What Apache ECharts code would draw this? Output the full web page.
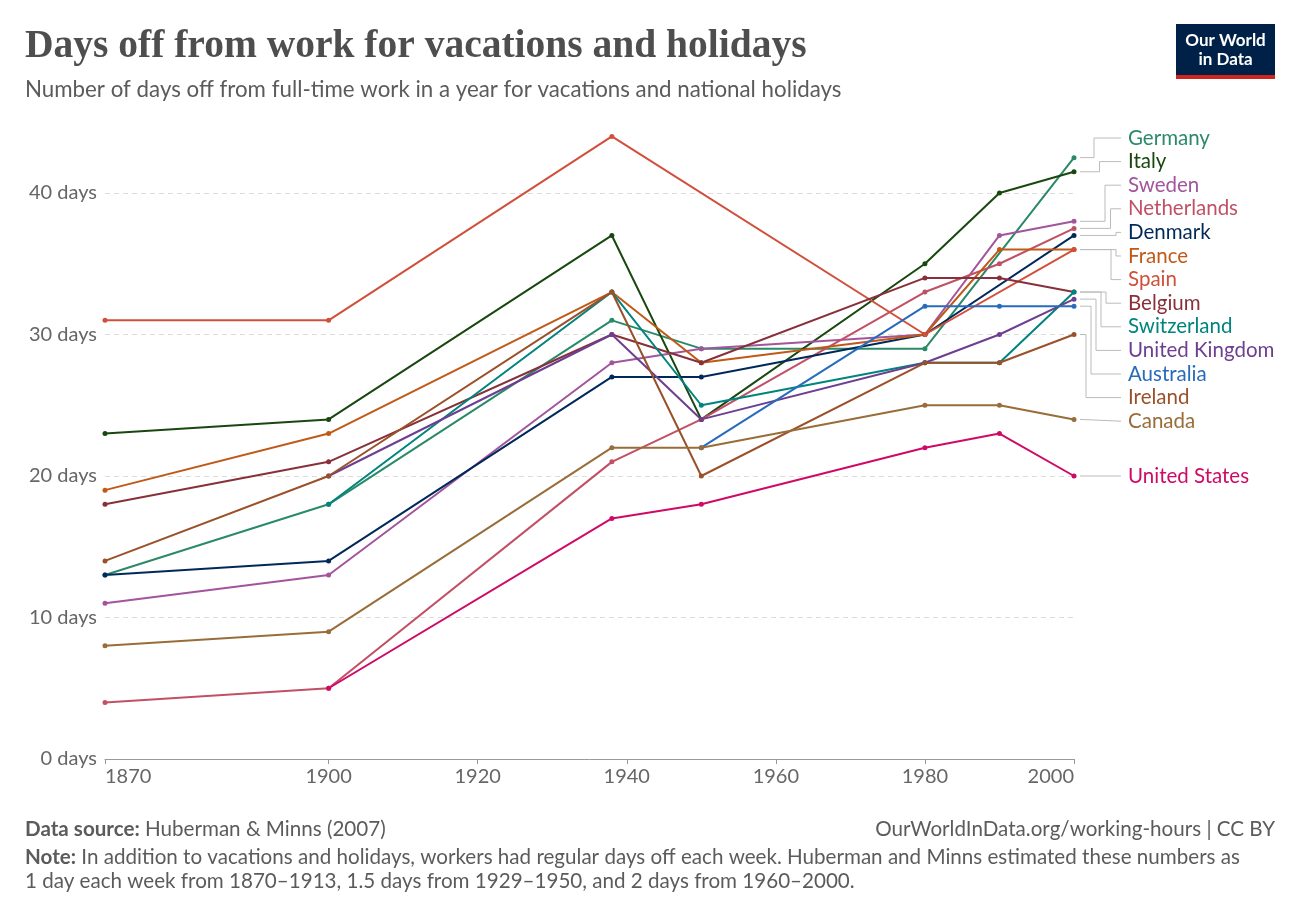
<!DOCTYPE html>
<html>
<head>
<meta charset="utf-8">
<script src="https://cdn.jsdelivr.net/npm/echarts@6/dist/echarts.min.js"></script>
<style>
  html, body { margin: 0; padding: 0; background: #fff; }
  #main { width: 1300px; height: 917px; }
</style>
</head>
<body>
<div id="main"></div>
<script>
// years with observations
var years = [1870, 1900, 1938, 1950, 1980, 1990, 2000];
var xTicks = [1870, 1900, 1920, 1940, 1960, 1980, 2000];

// days off per year, null = no data
var germany     = [13, 18, 31, 29, 29, null, 42.5];
var italy       = [23, 24, 37, 24, 35, 40, 41.5];
var sweden      = [11, 13, 28, 29, 30, 37, 38];
var netherlands = [4, 5, 21, 24, 33, 35, 37.5];
var denmark     = [13, 14, 27, 27, 30, null, 37];
var france      = [19, 23, 33, 28, 30, 36, 36];
var spain       = [31, 31, 44, null, 30, null, 36];
var belgium     = [18, 21, 30, 28, 34, 34, 33];
var switzerland = [null, 18, 33, 25, 28, 28, 33];
var uk          = [null, 20, 30, 24, 28, 30, 32.5];
var australia   = [null, null, null, 22, 32, 32, 32];
var ireland     = [14, 20, 33, 20, 28, 28, 30];
var canada      = [8, 9, 22, 22, 25, 25, 24];
var us          = [null, 5, 17, 18, 22, 23, 20];

var countries = [
  {name: 'Germany', values: germany, color: '#2a8a68'},
  {name: 'Italy', values: italy, color: '#18470f'},
  {name: 'Sweden', values: sweden, color: '#a2559c'},
  {name: 'Netherlands', values: netherlands, color: '#c15065'},
  {name: 'Denmark', values: denmark, color: '#00295b'},
  {name: 'France', values: france, color: '#c05917'},
  {name: 'Spain', values: spain, color: '#d0503b'},
  {name: 'Belgium', values: belgium, color: '#883039'},
  {name: 'Switzerland', values: switzerland, color: '#00847e'},
  {name: 'United Kingdom', values: uk, color: '#6d3e91'},
  {name: 'Australia', values: australia, color: '#286bbb'},
  {name: 'Ireland', values: ireland, color: '#9a5129'},
  {name: 'Canada', values: canada, color: '#996d39'},
  {name: 'United States', values: us, color: '#cf0a66'}
];

var FONT = 'Lato, "Noto Sans", sans-serif';

function pairs(vals) {
  return years.map(function (y, i) { return [y, vals[i]]; })
    .filter(function (d) { return d[1] != null; });
}

var myChart = echarts.init(document.getElementById('main'));

myChart.setOption({
  animation: false,
  backgroundColor: '#fff',
  grid: {left: 105, right: 226, top: 193, bottom: 158, containLabel: false},
  xAxis: {
    type: 'value',
    min: 1870,
    max: 2000,
    axisLine: {lineStyle: {color: '#999', width: 1}},
    axisTick: {show: true, customValues: xTicks, length: 5, lineStyle: {color: '#999'}},
    axisLabel: {
      customValues: xTicks,
      formatter: function (v) { return String(v); },
      color: '#666',
      fontSize: 20,
      fontFamily: FONT,
      margin: 8,
      alignMinLabel: 'left',
      alignMaxLabel: 'right'
    },
    splitLine: {show: false}
  },
  yAxis: {
    type: 'value',
    min: 0,
    max: 40,
    interval: 10,
    axisLine: {show: false},
    axisTick: {show: false},
    axisLabel: {formatter: '{value} days', color: '#666', fontSize: 20, fontFamily: FONT, margin: 8},
    splitLine: {lineStyle: {color: '#dcdcdc', type: [5, 4]}}
  },
  series: countries.map(function (c) {
    return {
      name: c.name,
      type: 'line',
      data: pairs(c.values),
      clip: false,
      symbol: 'circle',
      symbolSize: 5,
      lineStyle: {color: c.color, width: 2},
      itemStyle: {color: c.color},
      emphasis: {disabled: true}
    };
  })
});

// ---- end labels with connector lines ----
var labelX = 1128, gap = 23.6, minY = 138;
var items = countries.map(function (c) {
  var d = pairs(c.values);
  var last = d[d.length - 1];
  var p = myChart.convertToPixel({gridIndex: 0}, last);
  return {name: c.name, color: c.color, px: p[0], py: p[1]};
});
items.sort(function (a, b) { return a.py - b.py; });

var clusters = [];
items.forEach(function (it) {
  var c = {items: [it], sum: it.py};
  clusters.push(c);
  while (true) {
    var n = c.items.length;
    c.top = Math.max(minY, c.sum / n - (n - 1) * gap / 2);
    var prev = clusters[clusters.length - 2];
    if (prev && prev.top + prev.items.length * gap > c.top) {
      prev.items = prev.items.concat(c.items);
      prev.sum += c.sum;
      clusters.pop();
      c = prev;
    } else break;
  }
});
clusters.forEach(function (c) {
  c.items.forEach(function (it, i) { it.ly = c.top + i * gap; });
});

var graphics = [];
var ups = items.filter(function (it) { return it.ly < it.py - 2; });
var downs = items.filter(function (it) { return it.ly > it.py + 2; }).reverse();
ups.forEach(function (it, i) { it.ex = 1094 + i * 5.5; });
downs.forEach(function (it, i) { it.ex = 1086 + i * 5; });

items.forEach(function (it) {
  var x0 = it.px + 6, x1 = labelX - 7;
  var pts = it.ex ? [[x0, it.py], [it.ex, it.py], [it.ex, it.ly], [x1, it.ly]]
                  : [[x0, it.py], [x1, it.ly]];
  graphics.push({
    type: 'polyline',
    shape: {points: pts},
    style: {stroke: '#bbb', lineWidth: 1, fill: null},
    silent: true
  });
  graphics.push({
    type: 'text',
    x: labelX, y: it.ly,
    style: {text: it.name, fill: it.color, font: '20.5px ' + FONT, textVerticalAlign: 'middle'},
    silent: true
  });
});

// ---- header ----
graphics.push({
  type: 'text', x: 25, y: 47,
  style: {
    text: 'Days off from work for vacations and holidays',
    fill: '#4e4e4e',
    font: 'bold 39.5px "Liberation Serif", "DejaVu Serif", serif',
    textVerticalAlign: 'middle'
  }
});
graphics.push({
  type: 'text', x: 25, y: 90,
  style: {
    text: 'Number of days off from full-time work in a year for vacations and national holidays',
    fill: '#5b5b5b', font: '22.3px ' + FONT, textVerticalAlign: 'middle'
  }
});

// logo
graphics.push({type: 'rect', shape: {x: 1176, y: 24, width: 99, height: 55}, style: {fill: '#002147'}});
graphics.push({type: 'rect', shape: {x: 1176, y: 75, width: 99, height: 4}, style: {fill: '#ce261e'}});
graphics.push({
  type: 'text', x: 1225.5, y: 50,
  style: {
    text: 'Our World\nin Data', fill: '#fff', font: 'bold 17px ' + FONT,
    textAlign: 'center', textVerticalAlign: 'middle', lineHeight: 19
  }
});

// ---- footer ----
var FOOT = '20.6px ' + FONT;
var boldRich = {b: {fontWeight: 'bold', fontSize: 20.6, fontFamily: FONT, fill: '#5b5b5b'}};
graphics.push({
  type: 'text', x: 25, y: 829,
  style: {
    text: '{b|Data source:} Huberman & Minns (2007)',
    fill: '#5b5b5b', font: FOOT, textVerticalAlign: 'middle', rich: boldRich
  }
});
graphics.push({
  type: 'text', x: 1275, y: 829,
  style: {
    text: 'OurWorldInData.org/working-hours | CC BY',
    fill: '#5b5b5b', font: FOOT, textAlign: 'right', textVerticalAlign: 'middle'
  }
});
graphics.push({
  type: 'text', x: 25, y: 857,
  style: {
    text: '{b|Note:} In addition to vacations and holidays, workers had regular days off each week. Huberman and Minns estimated these numbers as',
    fill: '#5b5b5b', font: FOOT, textVerticalAlign: 'middle', rich: boldRich
  }
});
graphics.push({
  type: 'text', x: 25, y: 881,
  style: {
    text: '1 day each week from 1870\u20131913, 1.5 days from 1929\u20131950, and 2 days from 1960\u20132000.',
    fill: '#5b5b5b', font: FOOT, textVerticalAlign: 'middle'
  }
});

myChart.setOption({graphic: {elements: graphics}});
</script>
</body>
</html>
